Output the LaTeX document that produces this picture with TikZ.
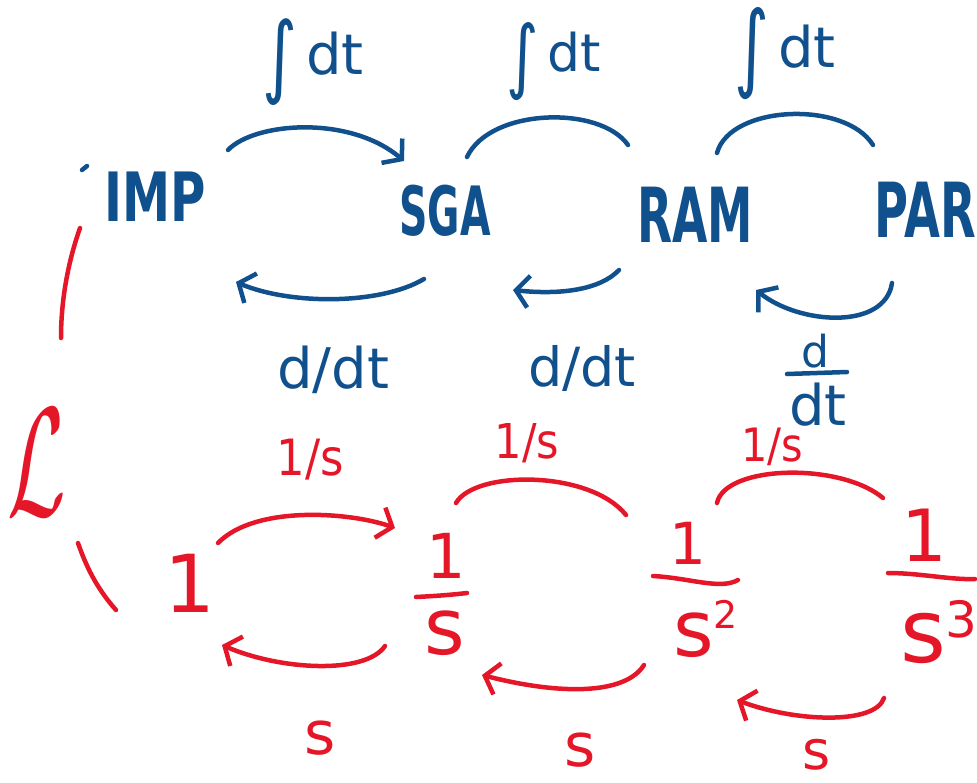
\documentclass[tikz,border=0pt]{standalone}
\usepackage{graphicx}
\usepackage{fontspec}
\setmainfont{DejaVu Sans}
\usetikzlibrary{arrows.meta}
\definecolor{penblue}{RGB}{16,80,140}
\definecolor{penred}{RGB}{228,22,40}
\newcommand{\nx}[2]{\scalebox{#1}[1]{#2}}
\newcommand{\fs}[1]{\fontsize{#1}{#1}\selectfont}
\begin{document}
\begin{tikzpicture}[x=1pt,y=-1pt,
  every node/.style={inner sep=0pt, outer sep=0pt},
  bt/.style={text=penblue},
  rt/.style={text=penred},
  bl/.style={draw=penblue, line width=4.5pt, line cap=round, line join=round},
  rl/.style={draw=penred, line width=4.5pt, line cap=round, line join=round},
  barb/.style={-{Straight Barb[length=13pt,width=32pt]}}
]
\useasboundingbox (0,0) rectangle (977,782);

% ---------- blue row ----------
\node[bt,font=\fs{68}\bfseries] (imp) at (155,197) {\nx{0.71}{IMP}};
\node[bt,font=\fs{68}\bfseries] (sga) at (445,211) {\nx{0.58}{SGA}};
\node[bt,font=\fs{76}\bfseries] (ram) at (695,215) {\nx{0.6}{RAM}};
\node[bt,font=\fs{76}\bfseries] (par) at (925,210) {\nx{0.61}{PAR}};

\node[bt,font=\fs{56}] (i1) at (313,62) {\raisebox{-12pt}{\scalebox{1.2}[1.6]{∫}}\,dt};
\node[bt,font=\fs{52}] (i2) at (554,62) {\raisebox{-12pt}{\scalebox{1.2}[1.55]{∫}}\,dt};
\node[bt,font=\fs{56}] (i3) at (785,54) {\raisebox{-12pt}{\scalebox{1.2}[1.7]{∫}}\,dt};

\node[bt,font=\fs{56}] (d1) at (333,370) {d/dt};
\node[bt,font=\fs{54}] (d2) at (582,368) {d/dt};
\node[bt,font=\fs{44}] (d3n) at (815,351) {d};
\node[bt,font=\fs{56}] (d3d) at (818,405) {dt};
\draw[bl] (787,374) -- (847,372);

\draw[bl] (82,170) -- (87,166);

% blue connectors
\draw[bl,barb] ([shift={(73,-47)}]imp.center) .. controls (255,122) and (350,115) .. ([shift={(-41,-50)}]sga.center);
\draw[bl] ([shift={(22,-54)}]sga.center) .. controls (490,108) and (600,105) .. ([shift={(-67,-70)}]ram.center);
\draw[bl] ([shift={(22,-62)}]ram.center) .. controls (730,105) and (845,100) .. ([shift={(-52,-65)}]par.center);
\draw[bl,barb] ([shift={(-21,68)}]sga.center) .. controls (380,305) and (290,305) .. ([shift={(81,85)}]imp.center);
\draw[bl,barb] ([shift={(-76,55)}]ram.center) .. controls (600,290) and (560,295) .. ([shift={(68,79)}]sga.center);
\draw[bl,barb] ([shift={(-33,73)}]par.center) .. controls (885,330) and (800,325) .. ([shift={(61,75)}]ram.center);

% ---------- red row ----------
\node[rt] (lap) at (37,463) {\scalebox{8.5}[15.5]{$\mathcal{L}$}};
\draw[rl] (80,228) .. controls (68,262) and (61,300) .. (61,338);
\draw[rl] (78,543) .. controls (88,572) and (100,592) .. (116,610);

\node[rt,font=\fs{80}] (one) at (190,583) {1};

\node[rt,font=\fs{62}] (f1n) at (446,556) {1};
\node[rt,font=\fs{78}] (f1d) at (445,633) {s};
\draw[rl] (416,597) .. controls (435,596) and (450,595) .. (467,593);

\node[rt,font=\fs{58}] (f2n) at (688,543) {1};
\node[rt,font=\fs{78},anchor=base west] (f2d) at (673,656) {s\raisebox{28pt}{\fs{38}2}};
\draw[rl] (653,576) .. controls (690,578) and (720,590) .. (738,580);

\node[rt,font=\fs{72}] (f3n) at (924,535) {1};
\node[rt,font=\fs{88},anchor=base west] (f3d) at (900,662) {s\raisebox{25pt}{\fs{50}3}};
\draw[rl] (888,573) .. controls (920,573) and (950,580) .. (975,579);

\node[rt,font=\fs{50}] (l1) at (310,460) {\nx{0.9}{1/s}};
\node[rt,font=\fs{48}] (l2) at (527,443) {\nx{0.9}{1/s}};
\node[rt,font=\fs{46}] (l3) at (772,447) {\nx{0.9}{1/s}};

\node[rt,font=\fs{60}] (s1) at (320,738) {s};
\node[rt,font=\fs{60}] (s2) at (580,750) {s};
\node[rt,font=\fs{54}] (s3) at (817,755) {s};

% red connectors
\draw[rl,barb] ([shift={(28,-40)}]one.center) .. controls (255,505) and (350,512) .. ([shift={(-51,-28)}]f1n.center);
\draw[rl,barb] ([shift={(-60,13)}]f1d.center) .. controls (365,675) and (280,670) .. ([shift={(32,62)}]one.center);
\draw[rl] ([shift={(10,-53)}]f1n.center) .. controls (475,470) and (590,470) .. ([shift={(-62,-28)}]f2n.center);
\draw[rl,barb] ([shift={(-29,9)}]f2d.base west) .. controls (625,695) and (560,695) .. ([shift={(37,42)}]f1d.center);
\draw[rl] ([shift={(29,-40)}]f2n.center) .. controls (725,465) and (840,462) .. ([shift={(-41,-37)}]f3n.center);
\draw[rl,barb] ([shift={(-16,36)}]f3d.base west) .. controls (875,725) and (795,722) .. ([shift={(64,44)}]f2d.base west);
\end{tikzpicture}
\end{document}
